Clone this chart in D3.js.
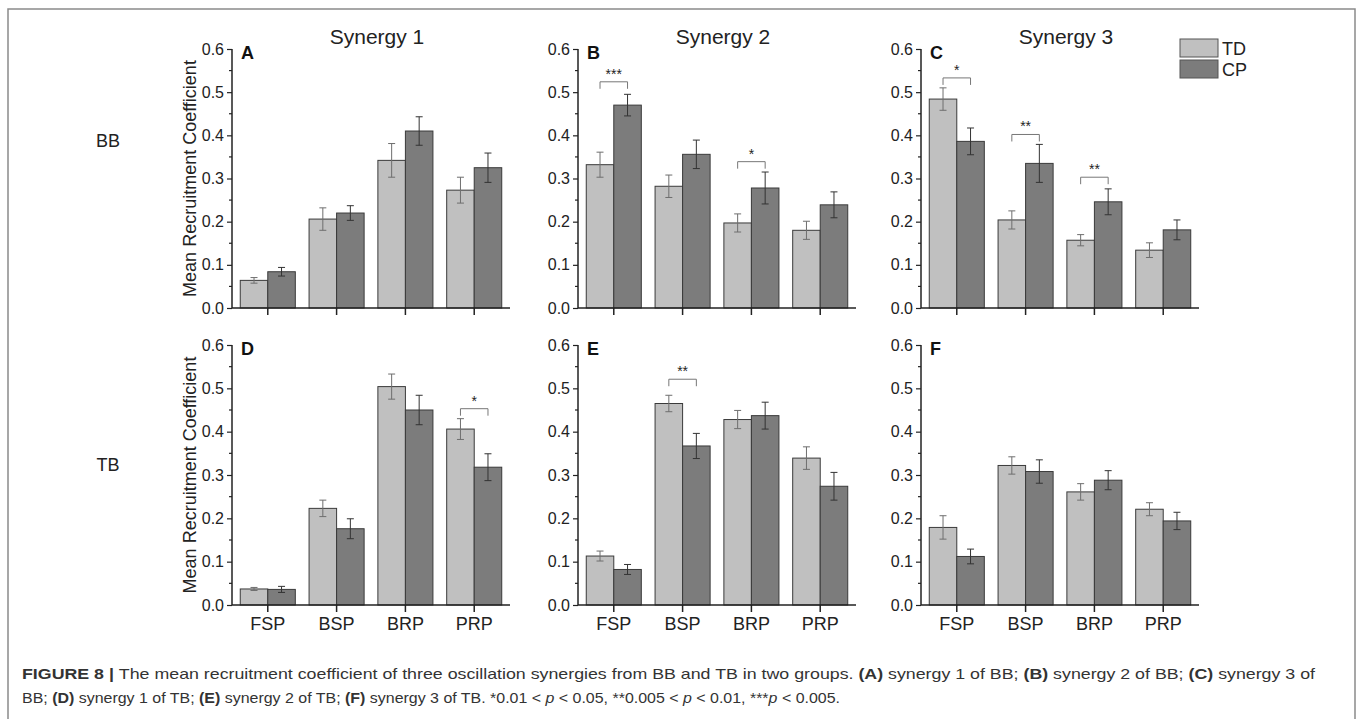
<!DOCTYPE html>
<html>
<head>
<meta charset="utf-8">
<script src="https://cdn.jsdelivr.net/npm/d3@7.9.0/dist/d3.min.js"></script>
<style>
  body { margin: 0; background: #fff; }
  svg { display: block; font-family: Arial, "Liberation Sans", Helvetica, sans-serif; }
</style>
</head>
<body>
<svg id="fig" width="1362" height="719"></svg>
<script>
// Data
const categories = ['FSP', 'BSP', 'BRP', 'PRP'];
const groups = ['TD', 'CP'];
const synergies = ['Synergy 1', 'Synergy 2', 'Synergy 3'];
const rowLabels = ['BB', 'TB'];
const panelLetters = ['A', 'B', 'C', 'D', 'E', 'F'];
const yTicks = [0, 0.1, 0.2, 0.3, 0.4, 0.5, 0.6];
const yMinorTicks = [0.05, 0.15, 0.25, 0.35, 0.45, 0.55];

// one row per panel (A..F), one value per category
const meanTD = [
  [0.064, 0.206, 0.342, 0.273],
  [0.332, 0.282, 0.197, 0.180],
  [0.484, 0.204, 0.157, 0.134],
  [0.037, 0.223, 0.504, 0.406],
  [0.113, 0.465, 0.428, 0.339],
  [0.179, 0.322, 0.261, 0.221]
];
const errTD = [
  [0.0065, 0.026, 0.039, 0.030],
  [0.029, 0.026, 0.021, 0.021],
  [0.026, 0.021, 0.013, 0.017],
  [0.0035, 0.019, 0.029, 0.024],
  [0.0115, 0.019, 0.021, 0.026],
  [0.027, 0.020, 0.019, 0.015]
];
const meanCP = [
  [0.084, 0.220, 0.410, 0.325],
  [0.470, 0.356, 0.278, 0.239],
  [0.386, 0.335, 0.246, 0.181],
  [0.036, 0.176, 0.450, 0.318],
  [0.082, 0.367, 0.437, 0.274],
  [0.112, 0.308, 0.288, 0.194]
];
const errCP = [
  [0.010, 0.017, 0.033, 0.034],
  [0.025, 0.033, 0.037, 0.030],
  [0.031, 0.044, 0.030, 0.023],
  [0.007, 0.023, 0.034, 0.031],
  [0.0115, 0.029, 0.031, 0.032],
  [0.017, 0.027, 0.022, 0.020]
];
// significance brackets: panel index, category, bracket height, stars
const sigPanel = [1, 1, 2, 2, 2, 3, 4];
const sigCategory = ['FSP', 'BRP', 'FSP', 'BSP', 'BRP', 'PRP', 'BSP'];
const sigLevel = [0.524, 0.339, 0.533, 0.402, 0.303, 0.453, 0.521];
const sigStars = ['***', '*', '*', '**', '**', '*', '**'];

// Layout
const svg = d3.select('#fig');
const colX = [232, 578, 921];
const axisW = 278;
const rowY = [[49, 308], [345, 605]];
const rowLabelY = [147, 471];
const fillColor = { TD: '#c0c0c0', CP: '#7c7c7c' };
const errColor = { TD: '#6e6e6e', CP: '#333' };

// figure frame
svg.append('rect')
  .attr('x', 8).attr('y', 9).attr('width', 1347).attr('height', 730)
  .attr('fill', 'none').attr('stroke', '#8a8a8a').attr('stroke-width', 1.5);

for (let p = 0; p < 6; p++) {
  const row = Math.floor(p / 3);
  const col = p % 3;
  const x0 = colX[col];
  const [yTop, yBot] = rowY[row];

  const x = d3.scaleBand().domain(categories).range([x0, x0 + axisW])
    .paddingInner(0.2).paddingOuter(0.12);
  const xg = d3.scaleBand().domain(groups).range([0, x.bandwidth()]);
  const y = d3.scaleLinear().domain([0, 0.6]).range([yBot, yTop]);

  const g = svg.append('g');

  // bars
  categories.forEach((c, i) => {
    const vals = { TD: meanTD[p][i], CP: meanCP[p][i] };
    const errs = { TD: errTD[p][i], CP: errCP[p][i] };
    groups.forEach((grp) => {
      const bx = x(c) + xg(grp);
      g.append('rect')
        .attr('x', bx).attr('y', y(vals[grp]))
        .attr('width', xg.bandwidth()).attr('height', y(0) - y(vals[grp]))
        .attr('fill', fillColor[grp]).attr('stroke', '#3a3a3a').attr('stroke-width', 1);
      const cx = bx + xg.bandwidth() / 2;
      const lo = y(vals[grp] - errs[grp]), hi = y(vals[grp] + errs[grp]);
      g.append('line').attr('x1', cx).attr('x2', cx).attr('y1', lo).attr('y2', hi)
        .attr('stroke', errColor[grp]).attr('stroke-width', 1);
      [lo, hi].forEach((yy) => {
        g.append('line').attr('x1', cx - 3.5).attr('x2', cx + 3.5).attr('y1', yy).attr('y2', yy)
          .attr('stroke', errColor[grp]).attr('stroke-width', 1);
      });
    });
  });

  // y axis
  const yAxis = d3.axisLeft(y).tickValues(yTicks).tickFormat(d3.format('.1f'))
    .tickSize(5).tickPadding(3);
  const ya = g.append('g').attr('transform', `translate(${x0},0)`).call(yAxis);
  ya.selectAll('text').attr('font-size', 16).attr('fill', '#222')
    .attr('font-family', 'Arial, "Liberation Sans", sans-serif');
  ya.selectAll('line').attr('stroke', '#222').attr('stroke-width', 1.2);
  ya.select('.domain').attr('stroke', '#222').attr('stroke-width', 1.5)
    .attr('d', `M0,${yBot}V${yTop}`);
  yMinorTicks.forEach((t) => {
    g.append('line').attr('x1', x0 - 3).attr('x2', x0).attr('y1', y(t)).attr('y2', y(t))
      .attr('stroke', '#222').attr('stroke-width', 1.2);
  });

  // x axis
  const xAxis = d3.axisBottom(x).tickSize(7).tickPadding(5);
  const xa = g.append('g').attr('transform', `translate(0,${yBot})`).call(xAxis);
  xa.select('.domain').attr('stroke', '#222').attr('stroke-width', 1.5)
    .attr('d', `M${x0},0H${x0 + axisW}`);
  xa.selectAll('line').attr('stroke', '#222').attr('stroke-width', 1.5);
  xa.selectAll('text').attr('font-size', 18).attr('fill', '#222')
    .attr('font-family', 'Arial, "Liberation Sans", sans-serif')
    .style('display', row === 1 ? null : 'none');

  // panel letter
  g.append('text').attr('x', x0 + 9).attr('y', yTop + 10)
    .attr('font-size', 18).attr('font-weight', 'bold').attr('fill', '#111')
    .text(panelLetters[p]);

  // y axis title on the left column
  if (col === 0) {
    g.append('text')
      .attr('transform', `translate(${x0 - 36},${(yTop + yBot) / 2}) rotate(-90)`)
      .attr('text-anchor', 'middle').attr('font-size', 18).attr('fill', '#222')
      .text('Mean Recruitment Coefficient');
  }

  // significance brackets
  sigPanel.forEach((sp, k) => {
    if (sp !== p) return;
    const c = sigCategory[k];
    const xl = x(c) + xg('TD') + xg.bandwidth() / 2;
    const xr = x(c) + xg('CP') + xg.bandwidth() / 2;
    const yy = y(sigLevel[k]);
    g.append('path')
      .attr('d', `M${xl},${yy + 7}V${yy}H${xr}V${yy + 7}`)
      .attr('fill', 'none').attr('stroke', '#777').attr('stroke-width', 1);
    g.append('text').attr('x', (xl + xr) / 2).attr('y', yy - 3)
      .attr('text-anchor', 'middle').attr('font-size', 14).attr('fill', '#222')
      .text(sigStars[k]);
  });
}

// column titles
synergies.forEach((s, i) => {
  svg.append('text').attr('x', colX[i] + axisW / 2 + 6).attr('y', 44)
    .attr('text-anchor', 'middle').attr('font-size', 21).attr('fill', '#222').text(s);
});

// row labels
rowLabels.forEach((r, i) => {
  svg.append('text').attr('x', 108).attr('y', rowLabelY[i])
    .attr('text-anchor', 'middle').attr('font-size', 18).attr('fill', '#222').text(r);
});

// legend
groups.forEach((grp, i) => {
  svg.append('rect').attr('x', 1180).attr('y', 39 + i * 21).attr('width', 38).attr('height', 18)
    .attr('fill', fillColor[grp]).attr('stroke', '#555').attr('stroke-width', 1);
  svg.append('text').attr('x', 1222).attr('y', 55 + i * 21)
    .attr('font-size', 18).attr('fill', '#222').text(grp);
});

// caption
const cap = svg.append('g').attr('font-family', '"Liberation Sans Narrow", "Liberation Sans", Arial, sans-serif')
  .attr('font-size', 15).attr('fill', '#333');
const line1 = cap.append('text').attr('x', 22).attr('y', 679)
  .attr('textLength', 1293).attr('lengthAdjust', 'spacingAndGlyphs');
line1.append('tspan').attr('font-weight', 'bold').text('FIGURE 8 | ');
line1.append('tspan').text('The mean recruitment coefficient of three oscillation synergies from BB and TB in two groups. ');
line1.append('tspan').attr('font-weight', 'bold').text('(A)');
line1.append('tspan').text(' synergy 1 of BB; ');
line1.append('tspan').attr('font-weight', 'bold').text('(B)');
line1.append('tspan').text(' synergy 2 of BB; ');
line1.append('tspan').attr('font-weight', 'bold').text('(C)');
line1.append('tspan').text(' synergy 3 of');
const line2 = cap.append('text').attr('x', 22).attr('y', 703)
  .attr('textLength', 818).attr('lengthAdjust', 'spacingAndGlyphs');
line2.append('tspan').text('BB; ');
line2.append('tspan').attr('font-weight', 'bold').text('(D)');
line2.append('tspan').text(' synergy 1 of TB; ');
line2.append('tspan').attr('font-weight', 'bold').text('(E)');
line2.append('tspan').text(' synergy 2 of TB; ');
line2.append('tspan').attr('font-weight', 'bold').text('(F)');
line2.append('tspan').text(' synergy 3 of TB. *0.01 < ');
line2.append('tspan').attr('font-style', 'italic').text('p');
line2.append('tspan').text(' < 0.05, **0.005 < ');
line2.append('tspan').attr('font-style', 'italic').text('p');
line2.append('tspan').text(' < 0.01, ***');
line2.append('tspan').attr('font-style', 'italic').text('p');
line2.append('tspan').text(' < 0.005.');
</script>
</body>
</html>
